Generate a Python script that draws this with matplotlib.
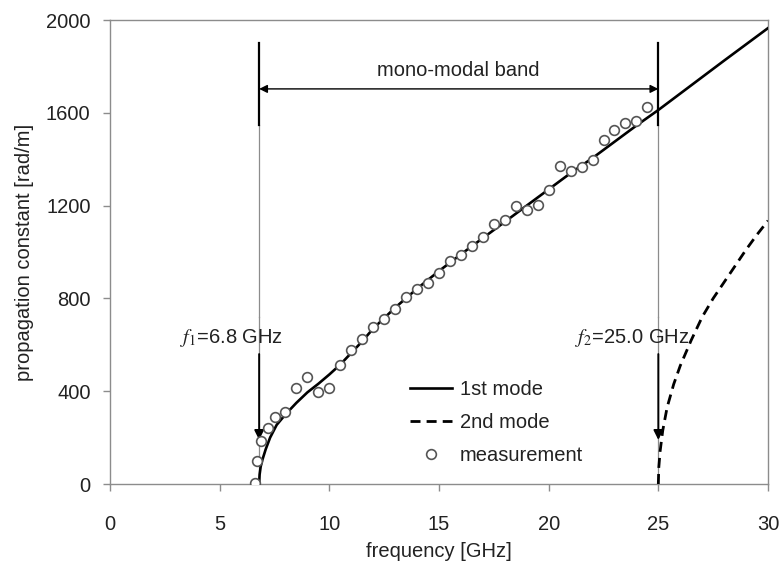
import matplotlib
matplotlib.use("Agg")
import matplotlib.pyplot as plt

plt.rcParams['font.family'] = ['Liberation Sans', 'DejaVu Sans']
plt.rcParams['mathtext.fontset'] = 'stix'

# 1st mode
mode1_freq = [6.8, 6.82, 6.87, 6.95, 7.1, 7.3, 7.6, 8.0, 8.5, 9.0, 9.5, 10.0,
              10.5, 11.0, 11.5, 12.0, 13.0, 14.0, 15.0, 16.0, 17.0, 18.0,
              19.0, 20.0, 21.0, 22.0, 23.0, 24.0, 25.0, 26.0, 27.0, 28.0,
              29.0, 30.0]
mode1_beta = [0, 40, 75, 105, 150, 200, 255, 300, 350, 395, 432, 472,
              515, 565, 615, 670, 760, 842, 918, 990, 1060, 1130,
              1200, 1270, 1340, 1405, 1475, 1545, 1612, 1683, 1754, 1825,
              1895, 1965]

# 2nd mode
mode2_freq = [25.0, 25.02, 25.08, 25.2, 25.4, 25.7, 26.0, 26.5, 27.0, 27.5,
              28.0, 28.5, 29.0, 29.5, 30.0]
mode2_beta = [0, 70, 140, 230, 330, 430, 510, 620, 720, 800,
              870, 940, 1010, 1075, 1135]

# measurement points
meas_freq = [6.6, 6.7, 6.9, 7.2, 7.5, 8.0, 8.5, 9.0, 9.5, 10.0, 10.5, 11.0,
             11.5, 12.0, 12.5, 13.0, 13.5, 14.0, 14.5, 15.0, 15.5, 16.0,
             16.5, 17.0, 17.5, 18.0, 18.5, 19.0, 19.5, 20.0, 20.5, 21.0,
             21.5, 22.0, 22.5, 23.0, 23.5, 24.0, 24.5]
meas_beta = [5, 100, 185, 240, 287, 312, 412, 463, 395, 412, 512, 577,
             624, 678, 711, 754, 805, 839, 868, 908, 960, 989,
             1026, 1064, 1119, 1139, 1200, 1183, 1202, 1268, 1372, 1348,
             1366, 1398, 1484, 1526, 1557, 1565, 1626]

f1, f2 = 6.8, 25.0
xticks = [0, 5, 10, 15, 20, 25, 30]
yticks = [0, 400, 800, 1200, 1600, 2000]

fig = plt.figure(figsize=(7.79, 5.68), dpi=100)
ax = fig.add_axes([110 / 779, 1 - 484 / 568, 658 / 779, 464 / 568])

grey = '#8c8c8c'
fs = 14.5

# vertical guide lines at the cut-off frequencies
for f in (f1, f2):
    ax.plot([f, f], [0, 720], color=grey, lw=0.9, zorder=1)
    ax.plot([f, f], [720, 1547], color=grey, lw=0.9, zorder=1)
    ax.plot([f, f], [1547, 1900], color='black', lw=1.6, zorder=3)
    ax.annotate('', xy=(f, 190), xytext=(f, 560),
                arrowprops=dict(arrowstyle='-|>', lw=1.4, color='black',
                                shrinkA=0, shrinkB=0, mutation_scale=14),
                zorder=5)

ax.annotate('', xy=(f1, 1703), xytext=(f2, 1703),
            arrowprops=dict(arrowstyle='<|-|>', lw=1.0, color='black',
                            shrinkA=0, shrinkB=0, mutation_scale=12))
ax.text((f1 + f2) / 2, 1784, 'mono-modal band', ha='center', va='center',
        fontsize=fs, color='#222222')

ax.text(5.52, 629, r'$f_1$=6.8 GHz', ha='center', va='center', fontsize=fs,
        color='#222222')
ax.text(23.8, 629, r'$f_2$=25.0 GHz', ha='center', va='center', fontsize=fs,
        color='#222222')

ax.plot(mode1_freq, mode1_beta, color='black', lw=1.9, label='1st mode', zorder=4)
ax.plot(mode2_freq, mode2_beta, color='black', lw=2.0, ls=(0, (3.6, 2.2)),
        label='2nd mode', zorder=4)
ax.plot(meas_freq, meas_beta, ls='none', marker='o', ms=7, mfc='white',
        mec='#555555', mew=1.2, label='measurement', zorder=6)

ax.set_xlim(0, 30)
ax.set_ylim(0, 2000)
ax.set_xticks(xticks)
ax.set_yticks(yticks)

for s in ax.spines.values():
    s.set_color(grey)
    s.set_linewidth(1.0)
ax.tick_params(axis='both', colors=grey, labelcolor='#222222', labelsize=fs,
               length=5, width=1.0, direction='out')
ax.tick_params(axis='x', pad=17)
ax.tick_params(axis='y', pad=9)

ax.set_xlabel('frequency [GHz]', fontsize=fs, color='#222222')
ax.set_ylabel('propagation constant [rad/m]', fontsize=fs, color='#222222')
ax.xaxis.set_label_coords(0.5, -0.125)
ax.yaxis.set_label_coords(-0.115, 0.5)

leg = ax.legend(loc='upper left', bbox_to_anchor=(0.44, 0.246), frameon=False,
                fontsize=fs, handlelength=2.1, handletextpad=0.4,
                labelspacing=0.7, borderpad=0)
for t in leg.get_texts():
    t.set_color('#222222')

fig.savefig('out.png', dpi=100)
